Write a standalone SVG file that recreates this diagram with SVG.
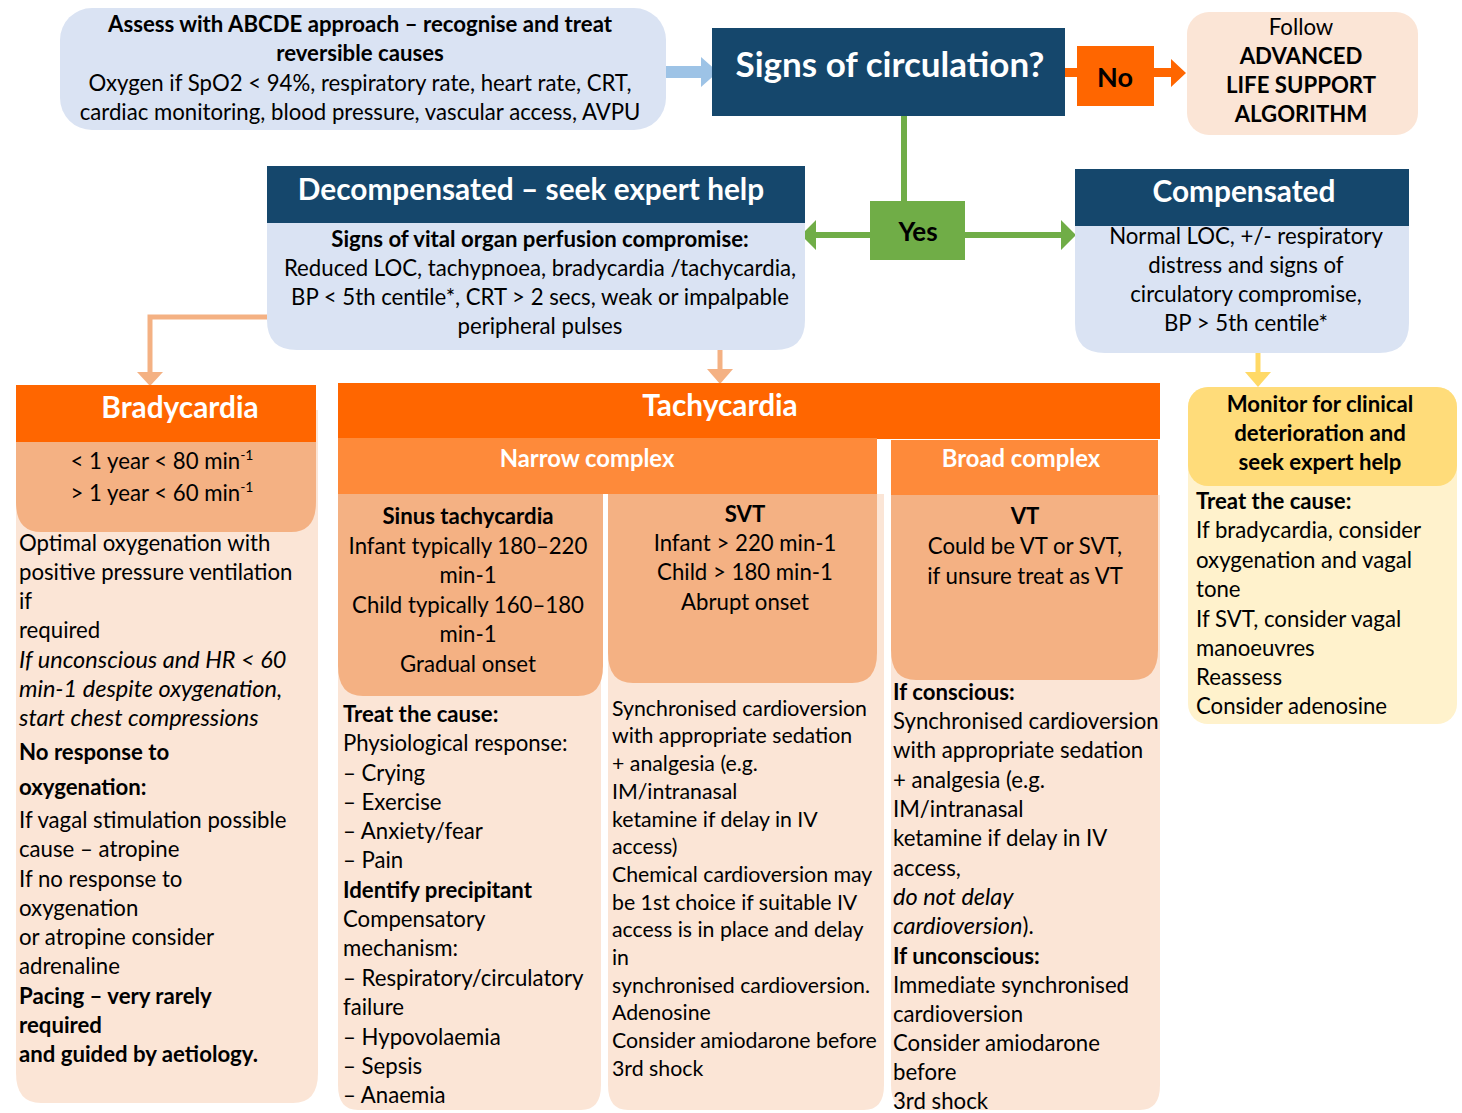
<svg xmlns="http://www.w3.org/2000/svg" width="1462" height="1113" viewBox="0 0 1462 1113">
<style>
text{font-family:Lato,"Liberation Sans",sans-serif;font-size:22.2px;fill:#000}
.c{text-anchor:middle}
.b{font-weight:bold}
.i{font-style:italic;font-size:23.5px}
.s{font-size:21.3px}
.w{fill:#fff}
.h1{font-size:35px;font-weight:bold;fill:#fff}
.h2{font-size:29.8px;font-weight:bold;fill:#fff}
.h3{font-size:23.8px;font-weight:bold;fill:#fff}
.dark{fill:#15476c}
.lb{fill:#dae3f3}
.or{fill:#ff6600}
.or2{fill:#fe8a3a}
.sal{fill:#f4b183}
.pe{fill:#fbe5d6}
.gold{fill:#ffdc7a}
.py{fill:#fff2cc}
</style>
<rect width="1462" height="1113" fill="#fff"/>

<g id="connectors">
  <polygon points="666,66 701,66 701,57 718,72 701,87 701,78 666,78" fill="#9dc3e6"/>
  <rect x="1063" y="68" width="16" height="9" fill="#ff6600"/>
  <polygon points="1152,68 1171,68 1171,59 1186,73 1171,87 1171,77 1152,77" fill="#ff6600"/>
  <rect x="901" y="114" width="6" height="90" fill="#70ad47"/>
  <polygon points="872,232 816,232 816,220 801,235 816,250 816,238 872,238" fill="#70ad47"/>
  <polygon points="963,232 1061,232 1061,220 1076,235 1061,250 1061,238 963,238" fill="#70ad47"/>
  <polyline points="268,317 150,317 150,374" fill="none" stroke="#f4b183" stroke-width="5"/>
  <polygon points="137,372 163,372 150,386" fill="#f4b183"/>
  <line x1="720" y1="348" x2="720" y2="372" stroke="#f4b183" stroke-width="5"/>
  <polygon points="707,369 733,369 720,384" fill="#f4b183"/>
  <line x1="1258" y1="352" x2="1258" y2="374" stroke="#ffd966" stroke-width="5"/>
  <polygon points="1245,372 1271,372 1258,387" fill="#ffd966"/>
</g>

<g id="assess">
  <rect x="60" y="8" width="606" height="122" rx="32" class="lb"/>
  <text x="360" y="32" class="c b">Assess with ABCDE approach – recognise and treat</text>
  <text x="360" y="61" class="c b">reversible causes</text>
  <text x="360" y="91" class="c">Oxygen if SpO2 &lt; 94%, respiratory rate, heart rate, CRT,</text>
  <text x="360" y="120" class="c">cardiac monitoring, blood pressure, vascular access, AVPU</text>
</g>

<g id="signs">
  <rect x="712" y="28" width="353" height="88" class="dark"/>
  <text x="890" y="77" class="c h1">Signs of circulation?</text>
</g>

<g id="no">
  <rect x="1077" y="46" width="77" height="60" class="or"/>
  <text x="1115" y="87" class="c b" style="font-size:27px">No</text>
</g>

<g id="als">
  <rect x="1187" y="12" width="231" height="123" rx="22" class="pe"/>
  <text x="1301" y="35" class="c">Follow</text>
  <text x="1301" y="64" class="c b">ADVANCED</text>
  <text x="1301" y="93" class="c b">LIFE SUPPORT</text>
  <text x="1301" y="122" class="c b">ALGORITHM</text>
</g>

<g id="yes">
  <rect x="870" y="201" width="95" height="59" fill="#70ad47"/>
  <text x="918" y="241" class="c b" style="font-size:26px">Yes</text>
</g>

<g id="decompensated">
  <path d="M267 220 H805 V320 Q805 350 775 350 H297 Q267 350 267 320 Z" class="lb"/>
  <rect x="267" y="166" width="538" height="57" class="dark"/>
  <text x="531" y="200" class="c h2">Decompensated – seek expert help</text>
  <text x="540" y="247" class="c b">Signs of vital organ perfusion compromise:</text>
  <text x="540" y="276" class="c">Reduced LOC, tachypnoea, bradycardia /tachycardia,</text>
  <text x="540" y="305" class="c">BP &lt; 5th centile*, CRT &gt; 2 secs, weak or impalpable</text>
  <text x="540" y="334" class="c">peripheral pulses</text>
</g>

<g id="compensated">
  <path d="M1075 222 H1409 V323 Q1409 353 1379 353 H1105 Q1075 353 1075 323 Z" class="lb"/>
  <rect x="1075" y="169" width="334" height="57" class="dark"/>
  <text x="1244" y="202" class="c h2">Compensated</text>
  <text x="1246" y="244" class="c">Normal LOC, +/- respiratory</text>
  <text x="1246" y="273" class="c">distress and signs of</text>
  <text x="1246" y="302" class="c">circulatory compromise,</text>
  <text x="1246" y="331" class="c">BP &gt; 5th centile*</text>
</g>

<g id="bradycardia">
  <path d="M16 410 H318 V1073 Q318 1103 293 1103 H41 Q16 1103 16 1073 Z" class="pe"/>
  <path d="M16 440 H316 V502 Q316 532 291 532 H41 Q16 532 16 502 Z" class="sal"/>
  <rect x="16" y="385" width="300" height="57" class="or"/>
  <text x="180" y="418" class="c h2">Bradycardia</text>
  <text x="162" y="469" class="c">&lt; 1 year &lt; 80 min<tspan dy="-9" style="font-size:14px">-1</tspan></text>
  <text x="162" y="501" class="c">&gt; 1 year &lt; 60 min<tspan dy="-9" style="font-size:14px">-1</tspan></text>
  <text x="19" y="551">Optimal oxygenation with</text>
  <text x="19" y="580">positive pressure ventilation</text>
  <text x="19" y="609">if</text>
  <text x="19" y="638">required</text>
  <text x="19" y="668" class="i">If unconscious and HR &lt; 60</text>
  <text x="19" y="697" class="i">min-1 despite oxygenation,</text>
  <text x="19" y="726" class="i">start chest compressions</text>
  <text x="19" y="760" class="b">No response to</text>
  <text x="19" y="795" class="b">oxygenation:</text>
  <text x="19" y="828">If vagal stimulation possible</text>
  <text x="19" y="857">cause – atropine</text>
  <text x="19" y="887">If no response to</text>
  <text x="19" y="916">oxygenation</text>
  <text x="19" y="945">or atropine consider</text>
  <text x="19" y="974">adrenaline</text>
  <text x="19" y="1004" class="b">Pacing – very rarely</text>
  <text x="19" y="1033" class="b">required</text>
  <text x="19" y="1062" class="b">and guided by aetiology.</text>
</g>

<g id="tachycardia">
  <rect x="338" y="383" width="822" height="56" class="or"/>
  <text x="720" y="416" class="c h2">Tachycardia</text>
</g>

<g id="narrow-complex">
  <rect x="338" y="438" width="539" height="56" class="or2"/>
  <text x="587" y="467" class="c h3">Narrow complex</text>
</g>

<g id="broad-complex">
  <rect x="891" y="440" width="267" height="55" class="or2"/>
  <text x="1021" y="467" class="c h3">Broad complex</text>
</g>

<g id="sinus">
  <path d="M338 494 H601 V1085 Q601 1110 581 1110 H358 Q338 1110 338 1085 Z" class="pe"/>
  <path d="M338 494 H603 V666 Q603 696 578 696 H363 Q338 696 338 666 Z" class="sal"/>
  <text x="468" y="524" class="c b">Sinus tachycardia</text>
  <text x="468" y="554" class="c">Infant typically 180–220</text>
  <text x="468" y="583" class="c">min-1</text>
  <text x="468" y="613" class="c">Child typically 160–180</text>
  <text x="468" y="642" class="c">min-1</text>
  <text x="468" y="672" class="c">Gradual onset</text>
  <text x="343" y="722" class="b">Treat the cause:</text>
  <text x="343" y="751">Physiological response:</text>
  <text x="343" y="781">– Crying</text>
  <text x="343" y="810">– Exercise</text>
  <text x="343" y="839">– Anxiety/fear</text>
  <text x="343" y="868">– Pain</text>
  <text x="343" y="898" class="b">Identify precipitant</text>
  <text x="343" y="927">Compensatory</text>
  <text x="343" y="956">mechanism:</text>
  <text x="343" y="986">– Respiratory/circulatory</text>
  <text x="343" y="1015">failure</text>
  <text x="343" y="1045">– Hypovolaemia</text>
  <text x="343" y="1074">– Sepsis</text>
  <text x="343" y="1103">– Anaemia</text>
</g>

<g id="svt">
  <path d="M608 494 H884 V1085 Q884 1110 864 1110 H628 Q608 1110 608 1085 Z" class="pe"/>
  <path d="M608 494 H877 V653 Q877 683 852 683 H633 Q608 683 608 653 Z" class="sal"/>
  <text x="745" y="522" class="c b">SVT</text>
  <text x="745" y="551" class="c">Infant &gt; 220 min-1</text>
  <text x="745" y="580" class="c">Child &gt; 180 min-1</text>
  <text x="745" y="610" class="c">Abrupt onset</text>
  <text x="612" y="716" class="s">Synchronised cardioversion</text>
  <text x="612" y="743" class="s">with appropriate sedation</text>
  <text x="612" y="771" class="s">+ analgesia (e.g.</text>
  <text x="612" y="799" class="s">IM/intranasal</text>
  <text x="612" y="827" class="s">ketamine if delay in IV</text>
  <text x="612" y="854" class="s">access)</text>
  <text x="612" y="882" class="s">Chemical cardioversion may</text>
  <text x="612" y="910" class="s">be 1st choice if suitable IV</text>
  <text x="612" y="937" class="s">access is in place and delay</text>
  <text x="612" y="965" class="s">in</text>
  <text x="612" y="993" class="s">synchronised cardioversion.</text>
  <text x="612" y="1020" class="s">Adenosine</text>
  <text x="612" y="1048" class="s">Consider amiodarone before</text>
  <text x="612" y="1076" class="s">3rd shock</text>
</g>

<g id="vt">
  <path d="M891 495 H1160 V1085 Q1160 1110 1140 1110 H911 Q891 1110 891 1085 Z" class="pe"/>
  <path d="M891 495 H1158 V650 Q1158 680 1133 680 H916 Q891 680 891 650 Z" class="sal"/>
  <text x="1025" y="524" class="c b">VT</text>
  <text x="1025" y="554" class="c">Could be VT or SVT,</text>
  <text x="1025" y="584" class="c">if unsure treat as VT</text>
  <text x="893" y="700" class="b">If conscious:</text>
  <text x="893" y="729">Synchronised cardioversion</text>
  <text x="893" y="758">with appropriate sedation</text>
  <text x="893" y="788">+ analgesia (e.g.</text>
  <text x="893" y="817">IM/intranasal</text>
  <text x="893" y="846">ketamine if delay in IV</text>
  <text x="893" y="876">access,</text>
  <text x="893" y="905" class="i">do not delay</text>
  <text x="893" y="934"><tspan class="i">cardioversion</tspan>).</text>
  <text x="893" y="964" class="b">If unconscious:</text>
  <text x="893" y="993">Immediate synchronised</text>
  <text x="893" y="1022">cardioversion</text>
  <text x="893" y="1051">Consider amiodarone</text>
  <text x="893" y="1080">before</text>
  <text x="893" y="1109">3rd shock</text>
</g>

<g id="monitor">
  <rect x="1188" y="387" width="269" height="337" rx="20" class="py"/>
  <rect x="1188" y="387" width="269" height="99" rx="20" class="gold"/>
  <text x="1320" y="412" class="c b">Monitor for clinical</text>
  <text x="1320" y="441" class="c b">deterioration and</text>
  <text x="1320" y="470" class="c b">seek expert help</text>
  <text x="1196" y="509" class="b">Treat the cause:</text>
  <text x="1196" y="538">If bradycardia, consider</text>
  <text x="1196" y="568">oxygenation and vagal</text>
  <text x="1196" y="597">tone</text>
  <text x="1196" y="627">If SVT, consider vagal</text>
  <text x="1196" y="656">manoeuvres</text>
  <text x="1196" y="685">Reassess</text>
  <text x="1196" y="714">Consider adenosine</text>
</g>
</svg>
